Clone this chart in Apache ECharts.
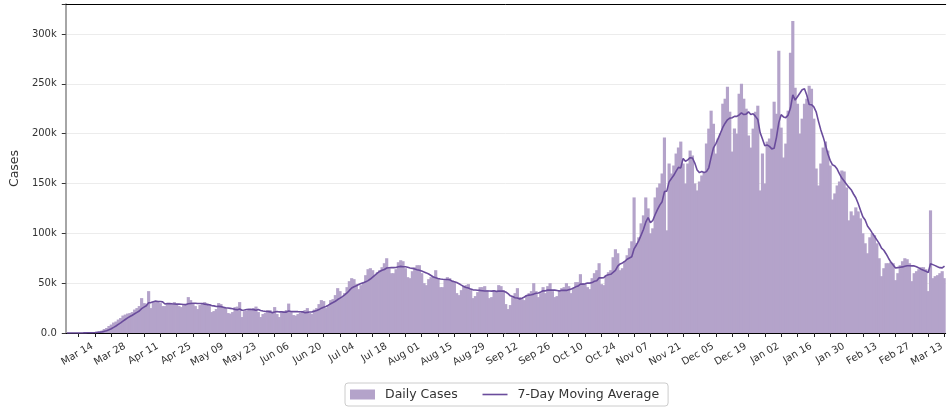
<!DOCTYPE html>
<html>
<head>
<meta charset="utf-8">
<script src="https://cdn.jsdelivr.net/npm/echarts@6/dist/echarts.min.js"></script>
<style>
  html, body { margin: 0; padding: 0; background: #ffffff; }
  #chart { width: 947px; height: 409px; }
</style>
</head>
<body>
<div id="chart"></div>
<script>
// First category date (one bar per day, consecutive)
const startDate = '2020-03-02';

// Daily cases in thousands, Mon..Sun rows, starting Mon 2020-03-02
const dailyCases = [
  0.02, 0.03, 0.04, 0.06, 0.08, 0.1, 0.12,
  0.2, 0.3, 0.4, 0.5, 0.6, 0.9, 1.3,
  1.8, 2.5, 4.0, 5.0, 7.0, 8.5, 10.5,
  11.5, 13.5, 15.0, 17.5, 18.5, 19.5, 20.0,
  21.0, 23.5, 25.0, 27.0, 35.0, 30.0, 29.5,
  42.0, 25.0, 31.0, 31.5, 32.0, 30.0, 27.0,
  27.0, 29.0, 30.0, 30.0, 31.0, 28.5, 27.0,
  26.0, 28.0, 29.0, 36.0, 33.0, 30.0, 27.0,
  24.0, 28.0, 29.5, 31.0, 30.0, 29.0, 21.0,
  22.0, 24.0, 30.0, 29.0, 26.0, 24.5, 20.0,
  19.5, 21.0, 26.0, 26.5, 31.0, 16.0, 22.0,
  22.5, 23.0, 24.5, 25.0, 26.5, 21.0, 16.0,
  19.0, 20.0, 23.0, 23.0, 21.0, 26.0, 19.0,
  16.0, 20.5, 21.0, 23.0, 29.5, 22.0, 18.0,
  17.5, 19.0, 20.5, 22.0, 23.0, 25.0, 20.0,
  19.0, 23.5, 25.0, 29.0, 33.0, 32.0, 25.0,
  28.0, 33.0, 34.0, 38.0, 45.0, 42.0, 36.0,
  40.0, 46.0, 52.0, 55.0, 54.0, 49.0, 44.0,
  48.0, 51.0, 58.0, 64.0, 65.0, 63.0, 58.0,
  61.0, 63.0, 66.0, 70.0, 75.0, 65.0, 60.0,
  60.0, 64.0, 71.0, 73.0, 72.0, 65.0, 56.0,
  55.0, 62.0, 66.0, 68.0, 68.0, 60.0, 50.0,
  48.0, 54.0, 56.0, 57.0, 63.0, 55.0, 46.0,
  46.0, 53.0, 56.0, 55.0, 53.0, 51.0, 40.0,
  38.0, 43.0, 47.0, 48.0, 49.0, 43.0, 35.0,
  37.0, 41.0, 46.0, 46.0, 47.0, 43.0, 35.0,
  36.0, 43.0, 42.0, 48.0, 47.0, 43.0, 29.0,
  24.0, 28.0, 37.0, 40.0, 45.0, 36.0, 34.0,
  33.0, 38.0, 40.0, 42.0, 50.0, 42.0, 36.0,
  40.0, 46.0, 40.0, 47.0, 50.0, 42.0, 36.0,
  37.0, 43.0, 45.0, 46.0, 50.0, 47.0, 40.0,
  45.0, 51.0, 51.0, 59.0, 50.0, 49.0, 46.0,
  44.0, 55.0, 60.0, 63.0, 70.0, 49.0, 48.0,
  58.0, 61.0, 63.0, 76.0, 84.0, 80.0, 63.0,
  65.0, 72.0, 78.0, 85.0, 92.0, 136.0, 90.0,
  96.0, 110.0, 118.0, 136.0, 125.0, 100.0, 105.0,
  136.0, 146.0, 150.0, 160.0, 196.0, 103.0, 170.0,
  160.0, 168.0, 180.0, 186.0, 192.0, 170.0, 150.0,
  170.0, 183.0, 178.0, 150.0, 143.0, 152.0, 158.0,
  162.0, 190.0, 205.0, 223.0, 210.0, 180.0, 195.0,
  200.0, 230.0, 235.0, 247.0, 222.0, 182.0, 205.0,
  200.0, 240.0, 250.0, 235.0, 225.0, 198.0, 186.0,
  205.0, 222.0, 228.0, 143.0, 180.0, 150.0, 192.0,
  195.0, 205.0, 232.0, 220.0, 283.0, 206.0, 176.0,
  190.0, 223.0, 281.0, 313.0, 246.0, 230.0, 200.0,
  215.0, 230.0, 235.0, 248.0, 245.0, 215.0, 165.0,
  148.0, 170.0, 186.0, 192.0, 183.0, 168.0, 134.0,
  140.0, 148.0, 152.0, 163.0, 162.0, 146.0, 113.0,
  122.0, 118.0, 126.0, 122.0, 115.0, 100.0, 90.0,
  80.0, 96.0, 100.0, 98.0, 90.0, 75.0, 57.0,
  65.0, 70.0, 70.0, 71.0, 70.0, 53.0, 60.0,
  68.0, 72.0, 75.0, 74.0, 70.0, 52.0, 60.0,
  62.0, 64.0, 66.0, 66.0, 64.0, 42.0, 123.0,
  55.0, 57.0, 58.0, 60.0, 62.0, 55.0
];

// Y-axis tick values (thousands) and their labels
const yTickValues = [0, 50, 100, 150, 200, 250, 300];
const yTickLabels = ['0.0', '50k', '100k', '150k', '200k', '250k', '300k'];

const monthNames = ['Jan','Feb','Mar','Apr','May','Jun','Jul','Aug','Sep','Oct','Nov','Dec'];

// category dates
const dates = [];
{
  const [y, m, d] = startDate.split('-').map(Number);
  for (let i = 0; i < dailyCases.length; i++) {
    const dt = new Date(Date.UTC(y, m - 1, d + i));
    dates.push(dt.toISOString().slice(0, 10));
  }
}

// 7-day trailing moving average of the daily series
const movingAvg = dailyCases.map((v, i) => {
  const s = dailyCases.slice(Math.max(0, i - 6), i + 1);
  return +(s.reduce((a, b) => a + b, 0) / s.length).toFixed(2);
});

const firstLabelIdx = 12; // 2020-03-14
const mod = (a, n) => ((a % n) + n) % n;

const chart = echarts.init(document.getElementById('chart'), null, { renderer: 'canvas' });
const FONT = 'DejaVu Sans';
const BAR = '#b4a3ca';
const LINE = '#6a4c9c';

chart.setOption({
  animation: false,
  backgroundColor: '#ffffff',
  textStyle: { fontFamily: FONT },
  grid: { left: 62, top: 4, width: 892.4, height: 329, containLabel: false },
  xAxis: [{
    type: 'category',
    data: dates,
    boundaryGap: true,
    axisLine: { show: true, lineStyle: { color: '#000', width: 1 } },
    axisTick: {
      show: true, alignWithLabel: true, length: 4,
      lineStyle: { color: '#222', width: 1 },
      interval: (i) => mod(i - firstLabelIdx, 7) === 0
    },
    axisLabel: {
      interval: (i) => mod(i - firstLabelIdx, 14) === 0,
      rotate: 30, fontSize: 10, color: '#333', fontFamily: FONT, margin: 11,
      padding: [0, 3, 0, 0],
      formatter: (v) => {
        const p = v.split('-');
        return monthNames[+p[1] - 1] + ' ' + p[2];
      }
    },
    splitLine: { show: false }
  }, {
    type: 'category',
    data: dates,
    position: 'top',
    axisLine: { show: true, lineStyle: { color: '#000', width: 1 } },
    axisTick: { show: false },
    axisLabel: { show: false },
    splitLine: { show: false }
  }],
  yAxis: {
    type: 'value',
    min: 0, max: 330, interval: 50,
    name: 'Cases', nameLocation: 'middle', nameGap: 42,
    nameTextStyle: { fontSize: 12.5, color: '#333', fontFamily: FONT },
    axisLine: { show: true, lineStyle: { color: '#888', width: 1.5 } },
    axisTick: { show: true, length: 4, lineStyle: { color: '#333' } },
    axisLabel: {
      fontSize: 10, color: '#333', margin: 9, fontFamily: FONT,
      formatter: (v) => {
        const k = yTickValues.indexOf(v);
        return k >= 0 ? yTickLabels[k] : '';
      }
    },
    splitLine: { show: true, lineStyle: { color: '#ececec', width: 1 } }
  },
  legend: {
    left: 345, top: 383,
    orient: 'horizontal',
    padding: [5, 9, 5, 5],
    itemGap: 24, itemWidth: 25, itemHeight: 10,
    borderColor: '#cccccc', borderWidth: 1, borderRadius: 3,
    backgroundColor: '#ffffff',
    textStyle: { fontSize: 12.5, color: '#333', fontFamily: FONT, padding: [0, 0, 0, 5] },
    data: [
      { name: 'Daily Cases', icon: 'rect' },
      { name: '7-Day Moving Average', itemStyle: { opacity: 0 }, lineStyle: { color: LINE, width: 1.6, opacity: 1 } }
    ]
  },
  series: [{
    name: 'Daily Cases',
    type: 'bar',
    xAxisIndex: 0,
    data: dailyCases,
    barWidth: '135%',
    itemStyle: { color: BAR },
    emphasis: { disabled: true }
  }, {
    name: '7-Day Moving Average',
    type: 'line',
    xAxisIndex: 0,
    data: movingAvg,
    symbol: 'none',
    showSymbol: false,
    smooth: false,
    lineStyle: { color: LINE, width: 1.6 },
    itemStyle: { color: LINE },
    z: 5
  }]
});
</script>
</body>
</html>
